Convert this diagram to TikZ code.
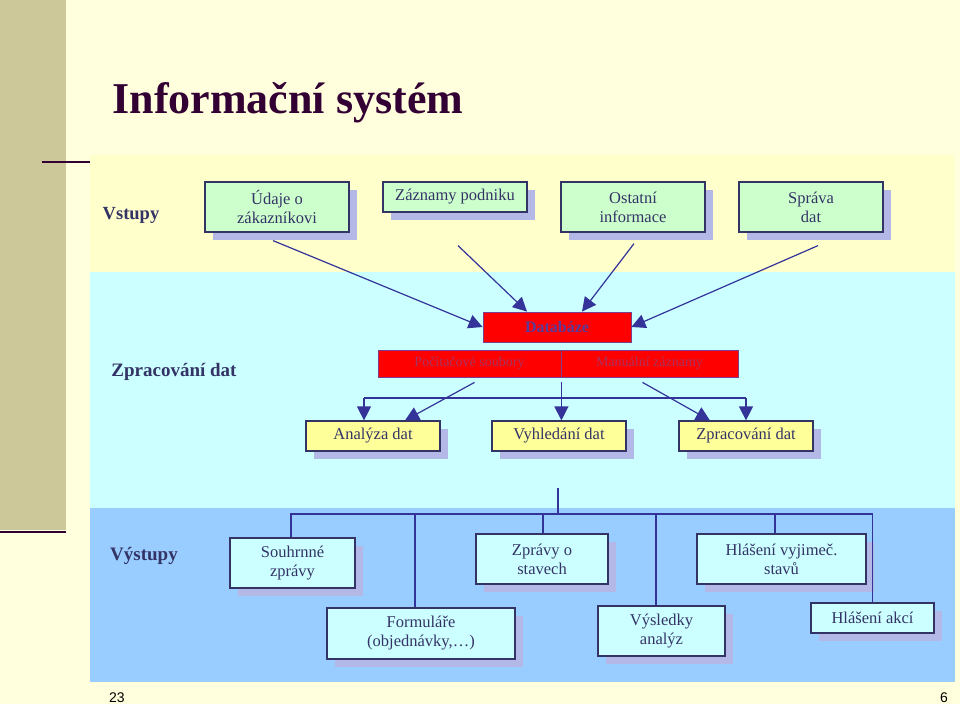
\documentclass[tikz,border=0pt]{standalone}
\usepackage{fontspec}
\setmainfont{Liberation Serif}
\newfontfamily\pnfont{Liberation Sans}
\usetikzlibrary{arrows.meta,shadows}
\definecolor{bgc}{HTML}{FFFFDE}
\definecolor{barc}{HTML}{CCC899}
\definecolor{titlec}{HTML}{330033}
\definecolor{vstc}{HTML}{FFFFCC}
\definecolor{zprc}{HTML}{CCFFFF}
\definecolor{vysc}{HTML}{99CCFF}
\definecolor{edgec}{HTML}{333366}
\definecolor{txtc}{HTML}{333366}
\definecolor{shadc}{HTML}{B3B8E6}
\definecolor{greenc}{HTML}{CCFFCC}
\definecolor{yellc}{HTML}{FFFF99}
\definecolor{cyanc}{HTML}{CCFFFF}
\definecolor{redc}{HTML}{FF0000}
\definecolor{redtxt}{HTML}{A8325E}
\definecolor{dbtxt}{HTML}{5A3C9A}
\definecolor{rededge}{HTML}{7A4090}
\definecolor{linec}{HTML}{333399}
\tikzset{
  box/.style={draw=edgec, line width=1.2pt, inner sep=0pt, align=center, text=txtc,
    font=\fontsize{16.5}{19}\selectfont,
    general shadow={fill=shadc, shadow xshift=8pt, shadow yshift=-8pt}},
  redbox/.style={draw=rededge, line width=0.8pt, fill=redc, inner sep=0pt, align=center},
  band/.style={text=txtc, font=\fontsize{19}{22}\selectfont\bfseries},
  arr/.style={draw=linec, line width=1.2pt, -{Triangle[length=14pt,width=14pt]}},
  conn/.style={draw=linec, line width=1.2pt},
  pnum/.style={font=\pnfont\fontsize{14}{16}\selectfont, text=black, inner sep=0pt}
}
\begin{document}
\begin{tikzpicture}[x=1pt,y=-1pt]
\useasboundingbox (0,0) rectangle (960,704);
\fill[bgc] (0,0) rectangle (960,704);
\fill[barc] (0,0) rectangle (66,530);
\draw[titlec,line width=2.5pt] (0,532) -- (66,532);
\draw[titlec,line width=2pt] (42,162) -- (90,162);
\fill[vstc] (90,155) rectangle (955,272);
\fill[zprc] (90,272) rectangle (955,508);
\fill[vysc] (90,508) rectangle (955,682);

\node[anchor=base west, text=titlec, font=\fontsize{44}{50}\selectfont\bfseries] (title) at (109,113) {Informační systém};

\node[band, font=\fontsize{18.5}{22}\selectfont\bfseries] (lvst) at (131,215) {Vstupy};
\node[band] (lzpr) at (174,372) {Zpracování dat};
\node[band] (lvys) at (144,556) {Výstupy};

% inputs
\node[box, fill=greenc, minimum width=144pt, minimum height=50pt] (udaje) at (277,207) {Údaje o\\zákazníkovi};
\node[box, fill=greenc, minimum width=144pt, minimum height=30pt] (zazn) at (455,197) {Záznamy podniku};
\node[box, fill=greenc, minimum width=144pt, minimum height=50pt] (ostat) at (633,207) {Ostatní\\informace};
\node[box, fill=greenc, minimum width=144pt, minimum height=50pt] (sprava) at (811,207) {Správa\\dat};

% database
\node[redbox, minimum width=148pt, minimum height=30pt, text=dbtxt, font=\fontsize{16}{19}\selectfont\bfseries] (db) at (557,327) {Databáze};
\node[redbox, minimum width=183pt, minimum height=27pt, text=redtxt, font=\fontsize{14}{16}\selectfont] (pc) at (469.5,363.5) {Počítačové soubory};
\node[redbox, minimum width=177pt, minimum height=27pt, text=redtxt, font=\fontsize{14}{16}\selectfont] (man) at (649.5,363.5) {Manuální záznamy};

% processing
\node[box, fill=yellc, minimum width=134pt, minimum height=30pt] (ana) at (373,436) {Analýza dat};
\node[box, fill=yellc, minimum width=134pt, minimum height=30pt] (vyh) at (559,436) {Vyhledání dat};
\node[box, fill=yellc, minimum width=134pt, minimum height=30pt] (zpd) at (746,436) {Zpracování dat};

% outputs
\node[box, fill=cyanc, minimum width=125pt, minimum height=50pt] (souhrn) at (292.5,563) {Souhrnné\\zprávy};
\node[box, fill=cyanc, minimum width=188pt, minimum height=51pt] (form) at (421,633.5) {Formuláře\\(objednávky,…)};
\node[box, fill=cyanc, minimum width=132pt, minimum height=50pt] (zos) at (542,559) {Zprávy o\\stavech};
\node[box, fill=cyanc, minimum width=127pt, minimum height=50pt] (vysl) at (661.5,631) {Výsledky\\analýz};
\node[box, fill=cyanc, minimum width=169pt, minimum height=50pt] (hvs) at (781.5,559) {Hlášení vyjimeč.\\stavů};
\node[box, fill=cyanc, minimum width=123pt, minimum height=30pt] (hakce) at (872.5,618) {Hlášení akcí};

% input arrows
\draw[arr] ([xshift=-4pt,yshift=-8pt]udaje.south) -- (db.west);
\draw[arr] ([xshift=3pt,yshift=-33pt]zazn.south) -- ([xshift=-30pt]db.north);
\draw[arr] ([xshift=1pt,yshift=-11pt]ostat.south) -- ([xshift=25pt]db.north);
\draw[arr] ([xshift=7pt,yshift=-13pt]sprava.south) -- (db.east);

% processing arrows
\coordinate (bl) at (364,398);
\coordinate (br) at (746,398);
\draw[conn] (bl) -- (br);
\draw[arr] (bl) -- (bl |- ana.north);
\draw[arr] (br) -- (zpd.north);
\draw[arr] ([xshift=5pt,yshift=-5pt]pc.south) -- ([xshift=32pt]ana.north);
\draw[arr] ([yshift=-5pt]pc.south east) -- (pc.south east |- vyh.north);
\draw[arr] ([xshift=-7pt,yshift=-5pt]man.south) -- ([xshift=-36pt]zpd.north);

% output tree
\coordinate (top) at (558,488);
\coordinate (bus) at (558,514);
\draw[conn] (top) -- (bus);
\draw[conn] ([xshift=-1.5pt]souhrn.north) |- (hakce.north |- bus) -- (hakce.north);
\draw[conn] ([xshift=-6pt]form.north) -- ([xshift=-6pt]form.north |- bus);
\draw[conn] ([xshift=1pt]zos.north) -- ([xshift=1pt]zos.north |- bus);
\draw[conn] ([xshift=-5.5pt]vysl.north) -- ([xshift=-5.5pt]vysl.north |- bus);
\draw[conn] ([xshift=-6.5pt]hvs.north) -- ([xshift=-6.5pt]hvs.north |- bus);

% page numbers
\node[pnum, anchor=base] (p23) at (117,702) {23};
\node[pnum, anchor=base] (p6) at (944,702) {6};
\end{tikzpicture}
\end{document}
